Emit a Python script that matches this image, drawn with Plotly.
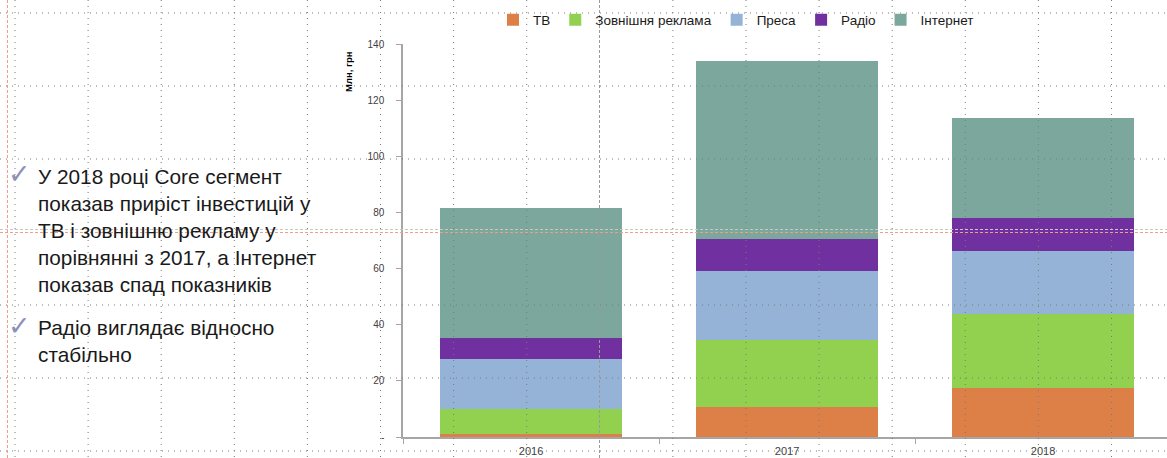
import plotly.graph_objects as go

years = ["2016", "2017", "2018"]
series_names = ["ТВ", "Зовнішня реклама", "Преса", "Радіо", "Інтернет"]
tv = [1.1, 10.6, 17.6]
outdoor = [9.0, 24.1, 26.1]
press = [17.7, 24.5, 22.6]
radio = [7.6, 11.4, 11.6]
internet = [46.3, 63.2, 35.7]
colors = ["#DD8047", "#92D050", "#95B3D7", "#7030A0", "#7BA79D"]
y_ticks = [0, 20, 40, 60, 80, 100, 120, 140]
y_ticktext = ["-", "20", "40", "60", "80", "100", "120", "140"]

bullet1 = ["У 2018 році Core сегмент", "показав приріст інвестицій у",
           "ТВ і зовнішню рекламу у", "порівнянні з 2017, а Інтернет",
           "показав спад показників"]
bullet2 = ["Радіо виглядає відносно", "стабільно"]

W, H = 1167, 458
L, R, T, B = 403, 0, 44, 21
PW, PH = W - L - R, H - T - B


def xp(px):
    return (px - L) / PW


def yp(py):
    return 1 - (py - T) / PH


fig = go.Figure()
for name, vals, col in zip(series_names, [tv, outdoor, press, radio, internet], colors):
    fig.add_trace(go.Bar(x=years, y=vals, name=name, marker=dict(color=col, line=dict(width=0)),
                         width=0.713))

shapes = []
dot = dict(color="#7a7a7a", width=1, dash="1px,5px")
for gy in [13, 86, 159, 305, 378, 451]:
    shapes.append(dict(type="line", xref="paper", yref="paper", x0=xp(0), x1=xp(W),
                       y0=yp(gy), y1=yp(gy), line=dot))
for k in range(16):
    gx = 15 + 73.1 * k
    if k == 8:
        continue
    shapes.append(dict(type="line", xref="paper", yref="paper", x0=xp(gx), x1=xp(gx),
                       y0=yp(0), y1=yp(H), line=dot))
# centre guides
shapes.append(dict(type="line", xref="paper", yref="paper", x0=xp(599.5), x1=xp(599.5),
                   y0=yp(0), y1=yp(H), line=dict(color="#9a9a9a", width=1, dash="3px,2px")))
shapes.append(dict(type="line", xref="paper", yref="paper", x0=xp(0), x1=xp(W),
                   y0=yp(229.5), y1=yp(229.5), line=dict(color="#c8c8c8", width=1, dash="3px,2px")))
shapes.append(dict(type="line", xref="paper", yref="paper", x0=xp(0), x1=xp(W),
                   y0=yp(232.5), y1=yp(232.5), line=dict(color="#F0A080", width=1, dash="3px,2px")))
shapes.append(dict(type="line", xref="paper", yref="paper", x0=xp(7.5), x1=xp(7.5),
                   y0=yp(0), y1=yp(H), line=dict(color="#F0A080", width=1, dash="3px,2px")))

annotations = []
txt_font = dict(family="Liberation Sans, Arial", size=20.8, color="#1a1a1a")
annotations.append(dict(xref="paper", yref="paper", x=xp(36), y=yp(163), xanchor="left", yanchor="top",
                        text="<br>".join(bullet1), showarrow=False, align="left", font=txt_font))
annotations.append(dict(xref="paper", yref="paper", x=xp(36), y=yp(314), xanchor="left", yanchor="top",
                        text="<br>".join(bullet2), showarrow=False, align="left", font=txt_font))
chk_font = dict(family="DejaVu Sans", size=27, color="#8f8fb8")
for cy in [174, 325]:
    annotations.append(dict(xref="paper", yref="paper", x=xp(20), y=yp(cy), xanchor="center",
                            yanchor="middle", text="✓", showarrow=False, font=chk_font))
annotations.append(dict(xref="paper", yref="paper", x=xp(349), y=yp(72), xanchor="center",
                        yanchor="middle", text="<b>Млн, грн</b>", textangle=-90, showarrow=False,
                        font=dict(family="Liberation Sans, Arial", size=9.5, color="#000000")))

fig.update_layout(
    barmode="stack",
    width=W, height=H,
    margin=dict(l=L, r=R, t=T, b=B, autoexpand=False),
    paper_bgcolor="white", plot_bgcolor="white",
    font=dict(family="Liberation Sans, Arial", color="#404040"),
    showlegend=True,
    legend=dict(orientation="h", xref="container", yref="container", x=736 / W, y=1 - 20 / H,
                xanchor="center", yanchor="middle", font=dict(size=13.5, color="#1a1a1a"),
                traceorder="normal", itemwidth=30, bgcolor="rgba(0,0,0,0)"),
    xaxis=dict(type="category", range=[-0.5, 2.484], showgrid=False, showline=True,
               linecolor="#a6a6a6", linewidth=1.5, ticks="outside", tickson="boundaries",
               ticklen=5, tickcolor="#a6a6a6", tickfont=dict(size=11, color="#404040"),
               ticklabelstandoff=3, automargin=False, fixedrange=True),
    yaxis=dict(range=[0, 140], tickvals=y_ticks, ticktext=y_ticktext, showgrid=False,
               showline=True, linecolor="#a6a6a6", linewidth=1.5, ticks="outside", ticklen=5,
               tickcolor="#a6a6a6", tickfont=dict(size=10, color="#404040"), zeroline=False,
               ticklabelstandoff=10, automargin=False),
    shapes=shapes,
    annotations=annotations,
    bargap=0.287,
)

fig.write_html("out.html", config={"displayModeBar": False},
               post_script="document.body.style.margin='0';document.body.style.overflow='hidden';")
